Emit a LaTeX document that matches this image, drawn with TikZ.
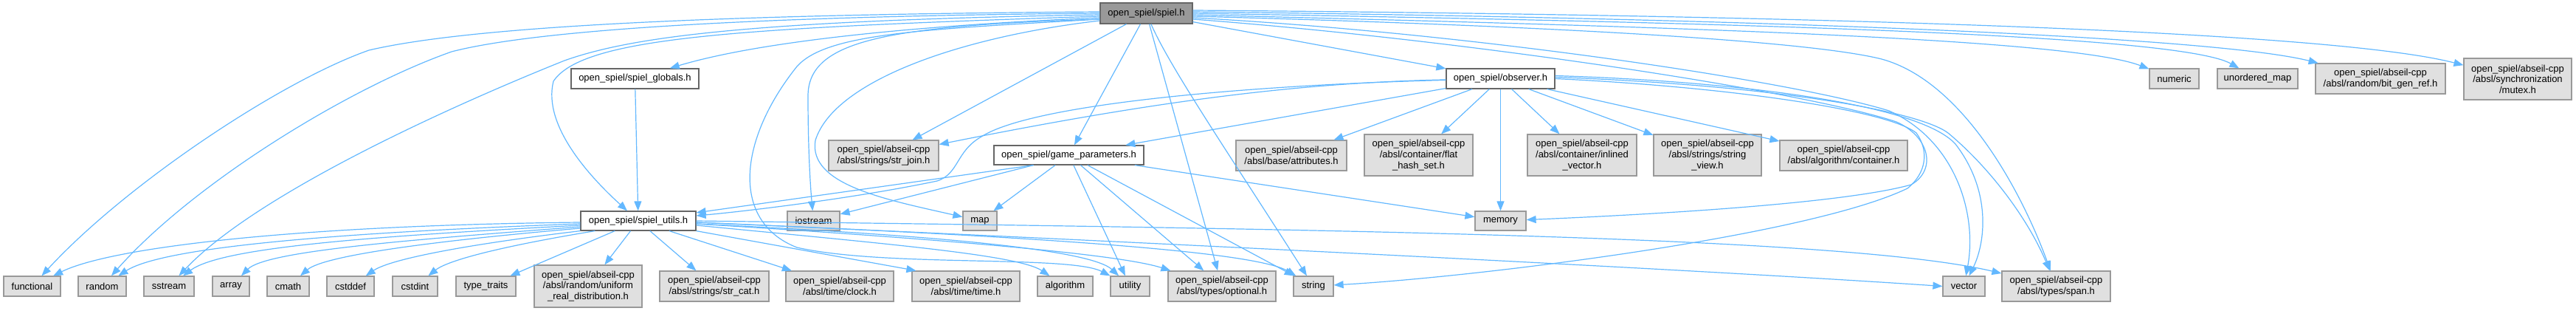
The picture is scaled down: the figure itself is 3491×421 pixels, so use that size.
\documentclass[tikz,border=0pt]{standalone}
\usepackage{fontspec}
\setmainfont{Liberation Sans}
\usetikzlibrary{arrows.meta}
\definecolor{edgecol}{HTML}{63B8FF}
\definecolor{extfill}{HTML}{E0E0E0}
\definecolor{extdraw}{HTML}{999999}
\definecolor{docdraw}{HTML}{666666}
\definecolor{rootfill}{HTML}{999999}
\tikzset{
  box/.style={rectangle, inner sep=0pt, line width=0.6pt, align=center,
    font=\fontsize{6.5pt}{7.3pt}\selectfont, text=black},
  ext/.style={box, fill=extfill, draw=extdraw},
  doc/.style={box, fill=white, draw=docdraw},
  root/.style={box, fill=rootfill, draw=docdraw},
  sz/.style 2 args={minimum width=#1*0.5pt, minimum height=#2*0.5pt},
  lnk/.style={draw=edgecol, line width=0.6pt, -{Triangle[length=6.5pt,width=5pt]}}
}
\begin{document}
\begin{tikzpicture}[x=0.5pt,y=-0.5pt]
\useasboundingbox (0,0) rectangle (3491,421);
% ---------- nodes ----------
\node[root,sz={125}{28}] (spiel) at (1553.5,18) {open\_spiel/spiel.h};
\node[doc,sz={173}{27}] (globals) at (860.5,106.5) {open\_spiel/spiel\_globals.h};
\node[doc,sz={156}{26}] (utils) at (865,299) {open\_spiel/spiel\_utils.h};
\node[doc,sz={203}{26}] (gp) at (1448.5,210) {open\_spiel/game\_parameters.h};
\node[doc,sz={147}{27}] (obs) at (2033.5,106.5) {open\_spiel/observer.h};
\node[ext,sz={71}{26}] (iostream) at (1102.5,299) {iostream};
\node[ext,sz={149}{41}] (strjoin) at (1197.5,210.5) {open\_spiel/abseil-cpp\\/absl/strings/str\_join.h};
\node[ext,sz={46}{26}] (map) at (1328,299) {map};
\node[ext,sz={150}{41}] (attr) at (1750,210.5) {open\_spiel/abseil-cpp\\/absl/base/attributes.h};
\node[ext,sz={147}{56}] (flat) at (1922.5,210) {open\_spiel/abseil-cpp\\/absl/container/flat\\\_hash\_set.h};
\node[ext,sz={148}{56}] (inl) at (2144,210) {open\_spiel/abseil-cpp\\/absl/container/inlined\\\_vector.h};
\node[ext,sz={146}{56}] (sv) at (2314,210) {open\_spiel/abseil-cpp\\/absl/strings/string\\\_view.h};
\node[ext,sz={173}{41}] (cont) at (2498.5,210.5) {open\_spiel/abseil-cpp\\/absl/algorithm/container.h};
\node[ext,sz={69}{26}] (memory) at (2033.5,299) {memory};
\node[ext,sz={67}{27}] (numeric) at (2946.5,106.5) {numeric};
\node[ext,sz={109}{27}] (umap) at (3059.5,106.5) {unordered\_map};
\node[ext,sz={176}{41}] (bitgen) at (3226,106.5) {open\_spiel/abseil-cpp\\/absl/random/bit\_gen\_ref.h};
\node[ext,sz={146}{56}] (mutex) at (3412,107) {open\_spiel/abseil-cpp\\/absl/synchronization\\/mutex.h};
% bottom row
\node[ext,sz={77}{27}] (functional) at (43.5,387.5) {functional};
\node[ext,sz={65}{27}] (random) at (138.5,387.5) {random};
\node[ext,sz={68}{27}] (sstream) at (229,387.5) {sstream};
\node[ext,sz={50}{27}] (array) at (313,387.5) {array};
\node[ext,sz={57}{27}] (cmath) at (390.5,387.5) {cmath};
\node[ext,sz={64}{27}] (cstddef) at (475,387.5) {cstddef};
\node[ext,sz={61}{27}] (cstdint) at (562.5,387.5) {cstdint};
\node[ext,sz={81}{27}] (typetraits) at (658.5,387.5) {type\_traits};
\node[ext,sz={146}{57}] (uniform) at (797,387.5) {open\_spiel/abseil-cpp\\/absl/random/uniform\\\_real\_distribution.h};
\node[ext,sz={148}{41}] (strcat) at (968,387.5) {open\_spiel/abseil-cpp\\/absl/strings/str\_cat.h};
\node[ext,sz={146}{41}] (clock) at (1138,387.5) {open\_spiel/abseil-cpp\\/absl/time/clock.h};
\node[ext,sz={146}{41}] (time) at (1309,387.5) {open\_spiel/abseil-cpp\\/absl/time/time.h};
\node[ext,sz={75}{27}] (algorithm) at (1443.5,387.5) {algorithm};
\node[ext,sz={53}{27}] (utility) at (1531.5,387.5) {utility};
\node[ext,sz={146}{41}] (optional) at (1656,387.5) {open\_spiel/abseil-cpp\\/absl/types/optional.h};
\node[ext,sz={54}{27}] (string) at (1780,387.5) {string};
\node[ext,sz={57}{27}] (vector) at (2661.5,387.5) {vector};
\node[ext,sz={147}{41}] (span) at (2786.5,387.5) {open\_spiel/abseil-cpp\\/absl/types/span.h};
% ---------- edges from spiel.h ----------
\draw[lnk] ([yshift=1pt]spiel.west) .. controls (900,20) and (620,40) .. (500,68) .. controls (380,110) and (170,250) .. (functional);
\draw[lnk] (spiel.west) .. controls (1000,22) and (720,42) .. (612,70) .. controls (470,120) and (260,250) .. (random);
\draw[lnk] ([yshift=-1pt]spiel.west) .. controls (1000,28) and (850,52) .. (765,82) .. controls (620,140) and (350,260) .. (sstream);
\draw[lnk] ([yshift=-2pt]spiel.west) .. controls (1000,38) and (790,50) .. (750,110) .. controls (735,170) and (800,240) .. (utils);
\draw[lnk] ([yshift=-3pt]spiel.west) .. controls (1300,32) and (1050,50) .. (globals);
\draw[lnk] ([yshift=-4pt]spiel.west) .. controls (1250,40) and (1120,45) .. (1080,90) .. controls (1000,190) and (990,300) .. (1080,335) .. controls (1200,362) and (1450,345) .. (utility);
\draw[lnk] ([yshift=-4pt]spiel.west) .. controls (1200,35) and (1095,55) .. (1095,130) .. controls (1095,200) and (1098,250) .. (iostream);
\draw[lnk] ([yshift=-5pt]spiel.west) .. controls (1300,50) and (1130,110) .. (1105,190) .. controls (1095,250) and (1200,270) .. (map);
\draw[lnk] (spiel) -- (strjoin);
\draw[lnk] (spiel) -- (gp);
\draw[lnk] (spiel) -- (optional);
\draw[lnk] (spiel) .. controls (1585,90) and (1660,200) .. (string);
\draw[lnk] (spiel) -- (obs);
\draw[lnk] ([yshift=2pt]spiel.east) .. controls (2400,20) and (3150,40) .. (mutex);
\draw[lnk] ([yshift=1pt]spiel.east) .. controls (2400,25) and (3000,50) .. (bitgen);
\draw[lnk] (spiel.east) .. controls (2300,30) and (2950,45) .. (umap);
\draw[lnk] ([yshift=-1pt]spiel.east) .. controls (2200,35) and (2800,50) .. (numeric);
\draw[lnk] ([yshift=-2pt]spiel.east) .. controls (2100,35) and (2450,55) .. (2550,80) .. controls (2660,110) and (2740,260) .. (span);
\draw[lnk] ([yshift=-3pt]spiel.east) .. controls (2000,45) and (2430,110) .. (2560,150) .. controls (2650,190) and (2680,290) .. (vector);
\draw[lnk] ([yshift=-4pt]spiel.east) .. controls (2000,55) and (2450,125) .. (2570,165) .. controls (2615,185) and (2625,230) .. (2590,250) .. controls (2500,275) and (2250,290) .. (memory);
% ---------- edges from observer.h ----------
\draw[lnk] (obs) .. controls (1750,112) and (1550,140) .. (strjoin);
\draw[lnk] (obs) .. controls (1700,115) and (1400,140) .. (1330,185) .. controls (1295,205) and (1300,235) .. (1270,245) .. controls (1150,270) and (1000,287) .. (utils);
\draw[lnk] (obs) -- (gp);
\draw[lnk] (obs) -- (attr);
\draw[lnk] (obs) -- (flat);
\draw[lnk] (obs) -- (memory);
\draw[lnk] (obs) -- (inl);
\draw[lnk] (obs) -- (sv);
\draw[lnk] (obs) -- (cont);
\draw[lnk] ([yshift=2pt]obs.east) .. controls (2350,110) and (2600,140) .. (2650,195) .. controls (2700,260) and (2690,330) .. (vector);
\draw[lnk] ([yshift=1pt]obs.east) .. controls (2400,115) and (2600,150) .. (2640,180) .. controls (2700,230) and (2750,300) .. (span);
\draw[lnk] (obs.east) .. controls (2350,118) and (2560,150) .. (2597,180) .. controls (2615,205) and (2610,235) .. (2585,255) .. controls (2450,320) and (2000,375) .. (string);
% ---------- edges from game_parameters.h ----------
\draw[lnk] ([xshift=-24pt]gp.south) -- (utils);
\draw[lnk] ([xshift=-24pt]gp.south) -- (iostream);
\draw[lnk] (gp) -- (map);
\draw[lnk] (gp) -- (utility);
\draw[lnk] (gp) -- (optional);
\draw[lnk] (gp) -- (string);
\draw[lnk] (gp) -- (memory);
% ---------- spiel_globals.h ----------
\draw[lnk] (globals) -- (utils);
% ---------- edges from spiel_utils.h ----------
\draw[lnk] ([yshift=-1pt]utils.west) .. controls (400,305) and (150,335) .. (functional);
\draw[lnk] ([yshift=-2pt]utils.west) .. controls (450,315) and (220,335) .. (random);
\draw[lnk] ([yshift=-3pt]utils.west) .. controls (500,320) and (300,335) .. (sstream);
\draw[lnk] ([yshift=-4pt]utils.west) .. controls (550,325) and (360,340) .. (array);
\draw[lnk] ([yshift=-5pt]utils.west) .. controls (600,325) and (440,345) .. (cmath);
\draw[lnk] (utils.south west) .. controls (640,330) and (530,350) .. (cstddef);
\draw[lnk] ([xshift=10pt]utils.south west) .. controls (700,330) and (610,350) .. (cstdint);
\draw[lnk] (utils) -- (typetraits);
\draw[lnk] (utils) -- (uniform);
\draw[lnk] (utils) -- (strcat);
\draw[lnk] (utils) -- (clock);
\draw[lnk] (utils.south east) -- ([xshift=3pt]time.north west);
\draw[lnk] ([yshift=-3pt]utils.east) .. controls (1200,330) and (1380,345) .. (algorithm);
\draw[lnk] ([yshift=-2pt]utils.east) .. controls (1300,320) and (1480,340) .. (utility);
\draw[lnk] ([yshift=-2pt]utils.east) .. controls (1300,325) and (1520,345) .. ([xshift=2pt]optional.north west);
\draw[lnk] ([yshift=-1pt]utils.east) .. controls (1400,320) and (1700,340) .. (string);
\draw[lnk] ([yshift=-1pt]utils.east) .. controls (1600,330) and (2300,365) .. (vector.west);
\draw[lnk] (utils.east) .. controls (1800,310) and (2500,320) .. (span);
\end{tikzpicture}
\end{document}
